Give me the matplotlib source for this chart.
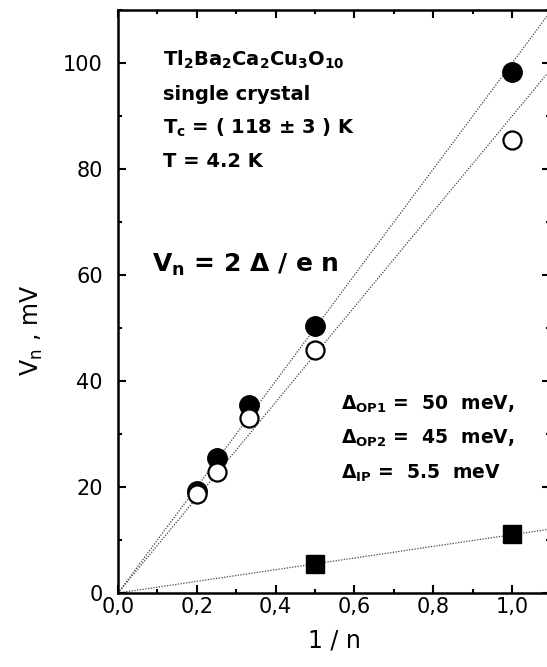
import matplotlib
matplotlib.use("Agg")
import matplotlib.pyplot as plt
from matplotlib.ticker import MultipleLocator, FuncFormatter
import numpy as np

plt.rcParams["font.family"] = ["DejaVu Sans"]
plt.rcParams["mathtext.fontset"] = "dejavusans"

# Inverse harmonic number 1/n of the subharmonic gap features
inv_n_op1 = [1.0, 0.5, 1 / 3, 0.25, 0.2]
v_op1 = [98.3, 50.3, 35.4, 25.4, 19.2]

inv_n_op2 = [1.0, 0.5, 1 / 3, 0.25, 0.2]
v_op2 = [85.5, 45.9, 33.0, 22.9, 18.7]

inv_n_ip = [1.0, 0.5]
v_ip = [11.1, 5.4]

# Gap values (meV) used for the V_n = 2*Delta/(e n) lines
gap_op1 = 50.0
gap_op2 = 45.0
gap_ip = 5.5

fig = plt.figure(figsize=(5.47, 6.67), dpi=100)
ax = fig.add_axes([118 / 547, 74 / 667, 432 / 547, 583 / 667])

x_fit = np.linspace(0, 1.096, 50)
line_kw = dict(color="#444444", lw=0.9, ls=(0, (1, 1.2)), zorder=1)
for gap in (gap_op1, gap_op2, gap_ip):
    ax.plot(x_fit, 2 * gap * x_fit, **line_kw)

ax.plot(inv_n_op1, v_op1, "o", ms=14, mfc="black", mec="black", zorder=3)
ax.plot(inv_n_op2, v_op2, "o", ms=13, mfc="white", mec="black", mew=1.6, zorder=4)
ax.plot(inv_n_ip, v_ip, "s", ms=13, mfc="black", mec="black", zorder=3)

ax.set_xlim(0, 1.096)
ax.set_ylim(0, 110)
ax.xaxis.set_major_locator(MultipleLocator(0.2))
ax.xaxis.set_minor_locator(MultipleLocator(0.1))
ax.yaxis.set_major_locator(MultipleLocator(20))
ax.yaxis.set_minor_locator(MultipleLocator(10))
ax.xaxis.set_major_formatter(FuncFormatter(lambda v, p: f"{v:.1f}".replace(".", ",")))
ax.yaxis.set_major_formatter(FuncFormatter(lambda v, p: f"{v:.0f}"))

ax.tick_params(which="both", direction="in", top=True, right=True, width=1.5)
ax.tick_params(which="major", length=6, labelsize=15)
ax.tick_params(which="minor", length=3)
ax.tick_params(axis="x", which="major", pad=3)
ax.tick_params(axis="y", which="major", pad=11)
for s in ax.spines.values():
    s.set_linewidth(1.8)

ax.set_xlabel("1 / n", fontsize=17, labelpad=8)
ax.set_ylabel(r"V$_{\mathrm{n}}$ , mV", fontsize=17)
ax.yaxis.set_label_coords(-0.17, 0.45)

bold = dict(fontsize=14, fontweight="bold", transform=ax.transData, va="baseline", ha="left")
ax.text(0.115, 99.5, r"Tl$_\mathbf{2}$Ba$_\mathbf{2}$Ca$_\mathbf{2}$Cu$_\mathbf{3}$O$_\mathbf{10}$", **bold)
ax.text(0.115, 93.1, "single crystal", **bold)
ax.text(0.115, 86.7, r"T$_\mathbf{c}$ = ( 118 ± 3 ) K", **bold)
ax.text(0.115, 80.3, "T = 4.2 K", **bold)
ax.text(0.085, 60.6, r"V$_\mathbf{n}$ = 2 Δ / e n", fontsize=18, fontweight="bold",
        transform=ax.transData, va="baseline", ha="left")

bold2 = dict(fontsize=13.5, fontweight="bold", transform=ax.transData, va="baseline", ha="left")
ax.text(0.565, 34.6, r"Δ$_\mathbf{OP1}$ =  50  meV,", **bold2)
ax.text(0.565, 28.1, r"Δ$_\mathbf{OP2}$ =  45  meV,", **bold2)
ax.text(0.565, 21.6, r"Δ$_\mathbf{IP}$ =  5.5  meV", **bold2)

fig.savefig("out.png", dpi=100)
